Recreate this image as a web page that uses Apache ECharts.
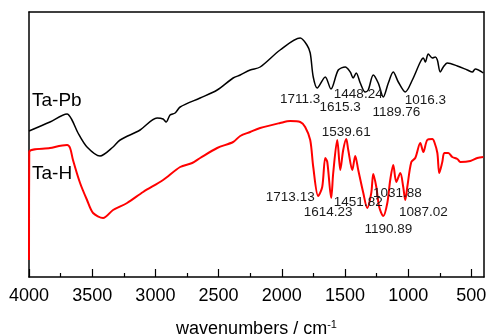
<!DOCTYPE html>
<html>
<head>
<meta charset="utf-8">
<script src="https://cdn.jsdelivr.net/npm/echarts@6/dist/echarts.min.js"></script>
<style>
  html, body { margin: 0; padding: 0; background: #fff; }
  #chart { width: 490px; height: 335px; }
</style>
</head>
<body>
<div id="chart"></div>
<script>
// x tick labels (wavenumber, cm-1)
const majorTicks = [4000, 3500, 3000, 2500, 2000, 1500, 1000, 500];
const minorTicks = [3750, 3250, 2750, 2250, 1750, 1250, 750];

// Ta-Pb spectrum: [wavenumber, transmittance (a.u.)]
const taPb = [
  [4000, 146], [3834, 155], [3699, 163], [3660, 157], [3612, 144], [3541, 130],
  [3438, 121], [3335, 130], [3279, 137], [3121, 147], [2987, 159], [2939, 158],
  [2915, 155], [2884, 162], [2844, 164], [2804, 170], [2646, 179], [2511, 187],
  [2385, 199], [2329, 202], [2250, 207], [2171, 210], [2013, 227], [1854, 239],
  [1801, 232], [1775, 224], [1751, 200], [1720, 189], [1656, 200], [1611, 188],
  [1553, 207], [1498, 210], [1458, 205], [1435, 199], [1411, 204], [1379, 194],
  [1340, 185], [1316, 187], [1276, 202], [1237, 194], [1197, 180], [1157, 194],
  [1118, 205], [1078, 195], [1023, 185], [967, 197], [904, 215], [880, 219],
  [864, 215], [841, 223], [809, 219], [785, 220], [769, 217], [746, 205],
  [722, 210], [690, 214], [611, 211], [532, 207], [492, 205], [469, 208], [405, 204]
];

// Ta-H spectrum: [wavenumber, transmittance (a.u.)]
const taH = [
  [4000, 17], [3998, 125], [3834, 129], [3699, 132], [3675, 129], [3652, 117],
  [3596, 94], [3541, 77], [3493, 64], [3414, 59], [3335, 67], [3224, 74],
  [3097, 85], [2939, 97], [2804, 110], [2709, 114], [2646, 119], [2511, 129],
  [2385, 135], [2329, 141], [2250, 145], [2171, 149], [2013, 154], [1933, 156],
  [1854, 155], [1815, 150], [1775, 137], [1751, 110], [1712, 81], [1680, 90],
  [1656, 119], [1640, 115], [1609, 79], [1593, 104], [1561, 137], [1537, 107],
  [1514, 127], [1490, 138], [1474, 127], [1442, 107], [1419, 121], [1395, 107],
  [1355, 84], [1324, 69], [1292, 84], [1276, 103], [1252, 90], [1229, 70],
  [1197, 61], [1165, 74], [1142, 97], [1118, 112], [1094, 95], [1062, 104],
  [1039, 90], [1023, 77], [1007, 90], [975, 115], [944, 119], [904, 134],
  [880, 125], [849, 137], [809, 138], [793, 135], [769, 124], [754, 104],
  [730, 115], [714, 124], [682, 124], [651, 120], [611, 118], [587, 115],
  [508, 116], [453, 119], [405, 120]
];

// peak labels and where each label sits (data coords)
const taPbPeaks = ['1711.3', '1615.3', '1448.24', '1189.76', '1016.3'];
const taPbPeakPos = [[1854, 178], [1538, 170], [1395, 183], [1094, 165], [864, 177]];
const taHPeaks = ['1539.61', '1713.13', '1614.23', '1451.82', '1031.88', '1087.02', '1190.89'];
const taHPeakPos = [[1490, 145], [1933, 80], [1633, 65], [1395, 75], [1086, 84], [880, 65], [1157, 48]];

const font = 'Liberation Sans, Arial, sans-serif';
const frame = { show: true, onZero: false, lineStyle: { color: '#000', width: 1.5 } };
const box = { left: 29, right: 6, top: 12, bottom: 58, outerBoundsMode: 'none', containLabel: false };

function peakMarks(names, pos) {
    return {
        symbol: 'circle',
        symbolSize: 0,
        label: {
            show: true,
            position: 'inside',
            color: '#1a1a1a',
            fontSize: 13.5,
            fontFamily: font,
            formatter: p => p.name
        },
        data: names.map((n, i) => ({ name: n, coord: pos[i] }))
    };
}

function plainX(grid, position, opts) {
    return Object.assign({
        type: 'value',
        gridIndex: grid,
        inverse: true,
        min: 400,
        max: 4000,
        position: position,
        axisLine: { show: false, onZero: false },
        axisTick: { show: false },
        axisLabel: { show: false },
        splitLine: { show: false }
    }, opts);
}

function plainY(grid, position, opts) {
    return Object.assign({
        type: 'value',
        gridIndex: grid,
        min: 0,
        max: 265,
        position: position,
        axisLine: { show: false, onZero: false },
        axisTick: { show: false },
        axisLabel: { show: false },
        splitLine: { show: false }
    }, opts);
}

const chart = echarts.init(document.getElementById('chart'));
chart.setOption({
    animation: false,
    backgroundColor: '#fff',
    // second grid only carries the short minor ticks
    grid: [Object.assign({}, box), Object.assign({}, box)],
    xAxis: [
        plainX(0, 'bottom', {
            name: '{a|wavenumbers / cm}{s|-1}',
            nameLocation: 'middle',
            nameGap: 42,
            nameTextStyle: {
                rich: {
                    a: { fontSize: 18, fontFamily: font, color: '#000' },
                    s: { fontSize: 11, fontFamily: font, color: '#000', verticalAlign: 'top', padding: [0, 0, 10, 0] }
                }
            },
            axisLine: frame,
            axisTick: { show: true, inside: true, length: 8, customValues: majorTicks, lineStyle: { color: '#000', width: 1.2 } },
            axisLabel: { show: true, customValues: majorTicks, fontSize: 18, fontFamily: font, color: '#000', margin: 10, formatter: v => String(v) }
        }),
        plainX(0, 'top', { axisLine: frame }),
        plainX(1, 'bottom', {
            axisTick: { show: true, inside: true, length: 4, customValues: minorTicks, lineStyle: { color: '#000', width: 1.2 } }
        })
    ],
    yAxis: [
        plainY(0, 'left', { axisLine: frame }),
        plainY(0, 'right', { axisLine: frame }),
        plainY(1, 'left', {})
    ],
    graphic: [
        { type: 'text', left: 32, top: 91, style: { text: 'Ta-Pb', fontSize: 19, fontFamily: font, fill: '#000' } },
        { type: 'text', left: 32, top: 164, style: { text: 'Ta-H', fontSize: 19, fontFamily: font, fill: '#000' } }
    ],
    series: [{
        name: 'Ta-Pb',
        type: 'line',
        xAxisIndex: 0,
        yAxisIndex: 0,
        data: taPb,
        showSymbol: false,
        smooth: 0.3,
        lineStyle: { color: '#000', width: 1.5 },
        markPoint: peakMarks(taPbPeaks, taPbPeakPos)
    }, {
        name: 'Ta-H',
        type: 'line',
        xAxisIndex: 0,
        yAxisIndex: 0,
        data: taH,
        showSymbol: false,
        smooth: 0.3,
        lineStyle: { color: '#f00', width: 2 },
        markPoint: peakMarks(taHPeaks, taHPeakPos)
    }]
});
</script>
</body>
</html>
